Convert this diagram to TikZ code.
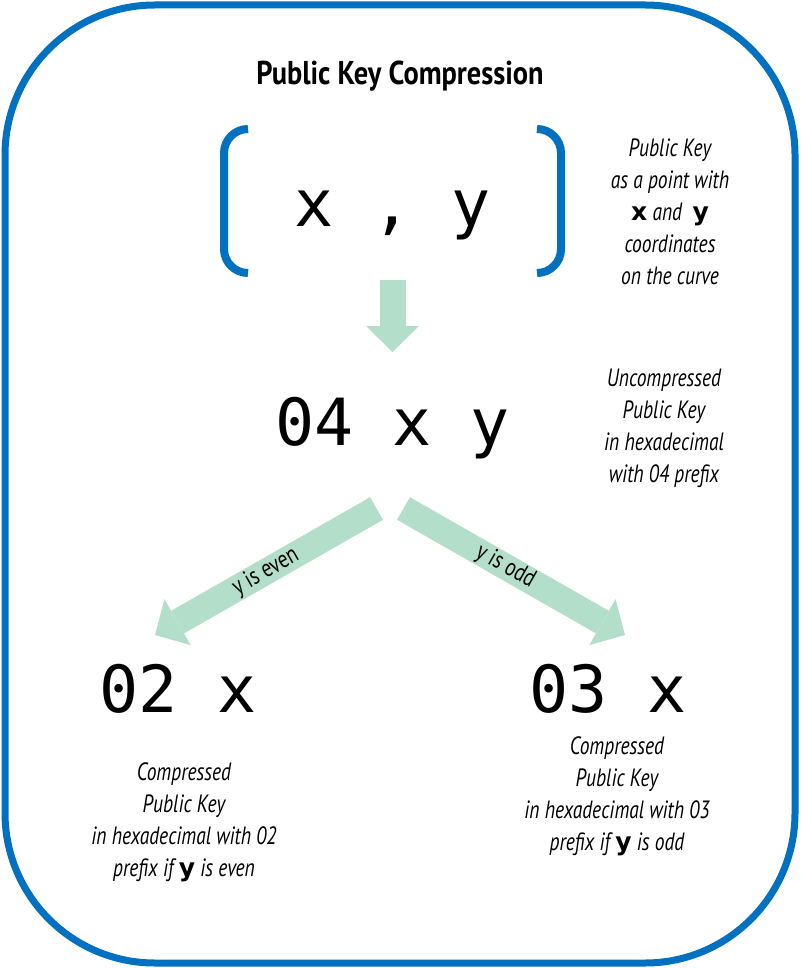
\documentclass[tikz,border=0pt]{standalone}
\usepackage{fontspec}
\usepackage{tikz}
\usetikzlibrary{arrows.meta}
\usetikzlibrary{positioning}
\setmainfont{PT Sans}
\newfontfamily\condfont[FakeStretch=0.78]{PT Sans}
\newfontfamily\titlefont[FakeStretch=0.86]{PT Sans}
\newfontfamily\codefont{DejaVu Sans Mono}
\newfontfamily\varfont{DejaVu Sans}
\definecolor{kblue}{RGB}{0, 112, 192}
\definecolor{kgreen}{RGB}{179, 223, 202}
\newcommand{\bvar}[1]{{\varfont\upshape\bfseries #1}}
\tikzset{
  keytext/.style = {inner sep = 0, font = \codefont\fontsize{65}{65}\selectfont},
  note/.style = {inner sep = 0, align = center, font = \condfont\itshape\fontsize{25}{32}\selectfont},
  bracket/.style = {kblue, line width = 8pt, rounded corners = 24pt},
  fat/.style = {kgreen, line width = 26pt, -{Triangle[length = 26pt, width = 53pt, line width = 0pt]}},
  tag/.style = {sloped, inner sep = 0, text = black, font = \condfont\fontsize{25}{25}\selectfont}
}

\begin{document}
\begin{tikzpicture}[x = 1pt, y = -1pt]
  \useasboundingbox (0, 0) rectangle (800, 968);
  \draw [kblue, line width = 7pt, rounded corners = 150pt] (5, 5) rectangle (795, 963);

  \node [anchor = base, inner sep = 0, font = \titlefont\bfseries\fontsize{33}{33}\selectfont] (title) at (400, 85) {Public Key Compression};

  % the point and its brackets
  \node [keytext, anchor = base] (point) at (392.5, 227) {x , y};
  \draw [bracket] (248, 129) -- (224, 129) -- (224, 273) -- (248, 273);
  \draw [bracket] (537, 129) -- (561, 129) -- (561, 273) -- (537, 273);
  \node [note] (pointnote) at (670, 212) {Public Key\\as a point with\\\bvar{x} and~ \bvar{y}\\coordinates\\on the curve};

  \node [keytext, anchor = base] (uncomp) at (392.5, 445) {04 x y};
  \node [note] (uncompnote) at (664, 428) {Uncompressed\\Public Key\\in hexadecimal\\with 04 prefix};
  \draw [fat] ([yshift = -53pt] point.base) -- ([yshift = 93pt] uncomp.base);

  \node [keytext, anchor = base] (even) at (178, 712) {02 x};
  \node [note] (evennote) at (184, 822) {Compressed\\Public Key\\in hexadecimal with 02\\prefix if \bvar{y} is even};

  \node [keytext, anchor = base] (odd) at (608, 712) {03 x};
  \node [note] (oddnote) at (617, 796) {Compressed\\Public Key\\in hexadecimal with 03\\prefix if \bvar{y} is odd};

  \draw [fat] ([shift = {(-16pt, -63.5pt)}] uncomp.base) -- node [tag, pos = 0.5] {y is even} ([shift = {(-23pt, 77pt)}] even.base);
  \draw [fat] ([shift = {(11pt, -63.5pt)}] uncomp.base) -- node [tag, pos = 0.46] {y is odd} ([shift = {(17pt, 77pt)}] odd.base);
\end{tikzpicture}
\end{document}
